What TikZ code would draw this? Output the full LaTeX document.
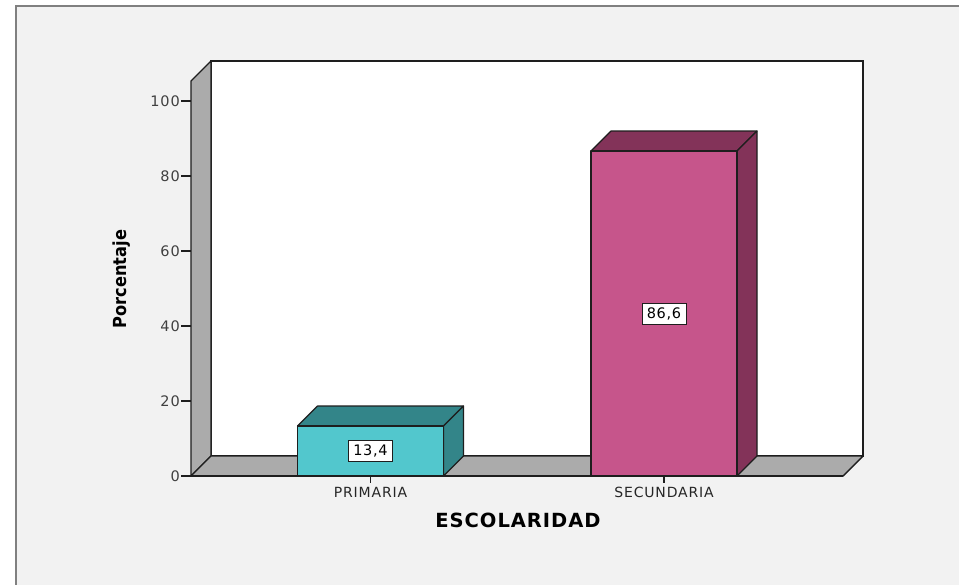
\documentclass[tikz,border=0pt]{standalone}
\usepackage{fontspec}
\setmainfont{DejaVu Sans}
\newfontfamily\tickfont[LetterSpace=6]{DejaVu Sans}
\newfontfamily\valuefont[LetterSpace=5]{DejaVu Sans}
\newfontfamily\labelfont[LetterSpace=6]{DejaVu Sans}
\newfontfamily\titlefont[LetterSpace=5]{DejaVu Sans}
\newfontfamily\condfont{DejaVu Sans Condensed}
\usetikzlibrary{positioning}

\definecolor{panelgray}{HTML}{F2F2F2}
\definecolor{framegray}{HTML}{808080}
\definecolor{wallgray}{HTML}{ABABAB}
\definecolor{edgeblack}{HTML}{1E1E1E}
\definecolor{cyanfront}{HTML}{52C7CD}
\definecolor{cyandark}{HTML}{338589}
\definecolor{pinkfront}{HTML}{C6558B}
\definecolor{pinkdark}{HTML}{833359}

\begin{document}
\begin{tikzpicture}[
        x=1pt, y=-1pt,
        wall/.style={
            fill=wallgray,
            draw=edgeblack,
            line width=1.4pt,
            line join=round
        },
        barface/.style={
            draw=edgeblack,
            line width=1.1pt,
            line join=round
        },
        tick/.style={
            draw=edgeblack,
            line width=1.2pt
        },
        ticklabel/.style={
            font=\tickfont\fontsize{14.5}{15}\selectfont,
            text=black!75,
            anchor=east,
            inner sep=1pt
        },
        catlabel/.style={
            font=\labelfont\fontsize{14}{14}\selectfont,
            text=black!85,
            inner sep=0pt
        },
        valuebox/.style={
            rectangle,
            draw=edgeblack,
            fill=white,
            line width=0.9pt,
            minimum width=44pt,
            minimum height=21pt,
            inner sep=1pt,
            font=\valuefont\fontsize{14.5}{15}\selectfont
        }
    ]

    \useasboundingbox (0,0) rectangle (959,584);

    % Panel
    \fill[white] (0,0) rectangle (959,584);
    \draw[fill=panelgray, draw=framegray, line width=2pt] (16,6) rectangle (975,600);

    % Walls and floor
    \draw[fill=white, draw=edgeblack, line width=1.4pt] (211,61) rectangle (863,456);
    \draw[wall] (191,476) -- (191,81) -- (211,61) -- (211,456) -- cycle;
    \draw[wall] (191,476) -- (211,456) -- (863,456) -- (843,476) -- cycle;

    % Value axis
    \foreach \v in {0,20,40,60,80,100} {
        \draw[tick] (181,476-3.75*\v) -- (191,476-3.75*\v);
        \node[ticklabel] (tick\v) at (181,476-3.75*\v) {\v};
    }

    % PRIMARIA bar
    \draw[barface, fill=cyandark] (297.5,426) -- (317.5,406) -- (463.5,406) -- (443.5,426) -- cycle;
    \draw[barface, fill=cyandark] (443.5,426) -- (463.5,406) -- (463.5,456) -- (443.5,476) -- cycle;
    \draw[barface, fill=cyanfront] (297.5,476) rectangle (443.5,426);

    % SECUNDARIA bar
    \draw[barface, fill=pinkdark] (591,151) -- (611,131) -- (757,131) -- (737,151) -- cycle;
    \draw[barface, fill=pinkdark] (737,151) -- (757,131) -- (757,456) -- (737,476) -- cycle;
    \draw[barface, fill=pinkfront] (591,476) rectangle (737,151);

    % Category axis
    \draw[edgeblack, line width=1.4pt] (181,476) -- (843,476);
    \draw[tick] (370.5,476) -- (370.5,483);
    \draw[tick] (664,476) -- (664,483);
    \node[catlabel] (primaria) at (370.5,492) {PRIMARIA};
    \node[catlabel] (secundaria) at (664,492) {SECUNDARIA};

    % Values
    \node[valuebox] (val1) at (370.5,451) {13,4};
    \node[valuebox] (val2) at (664,313.5) {86,6};

    % Axis titles
    \node[font=\titlefont\bfseries\fontsize{19.5}{20}\selectfont] (xtitle) at (518,520) {ESCOLARIDAD};
    \node[rotate=90, font=\condfont\bfseries\fontsize{18}{18}\selectfont] (ytitle) at (122,279) {Porcentaje};

\end{tikzpicture}
\end{document}
